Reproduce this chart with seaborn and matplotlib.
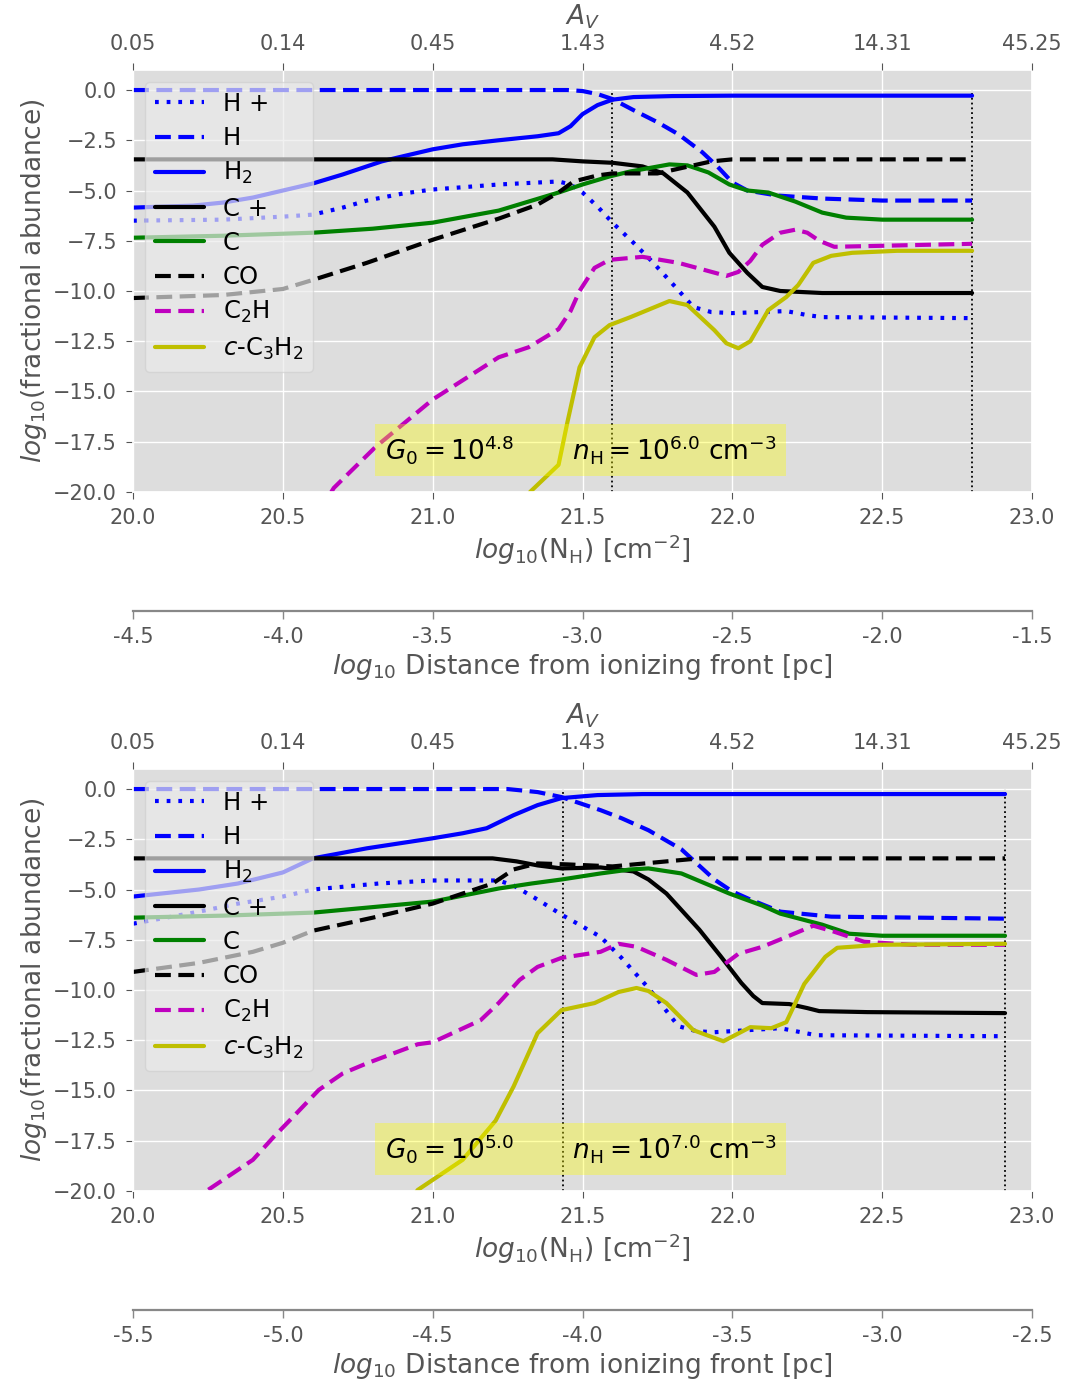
# -*- coding: utf-8 -*-
# PDR abundance profiles for two models, plotted against column density

# 1) IMPORT LIBRARIES
import numpy as np
import pandas as pd
import matplotlib
matplotlib.use("Agg")
import matplotlib.pyplot as plt
import seaborn as sns

# 2) DATA (read off the figure)
labels = ["H +", "H", "H$_2$", "C +", "C", "CO", "C$_2$H", "$c$-C$_3$H$_2$"]
colors = ["#0000FF", "#0000FF", "#0000FF", "#000000", "#008000", "#000000", "#BF00BF", "#BFBF00"]
styles = ["dot", "dash", "solid", "solid", "solid", "dash", "dash", "solid"]

# ---> model 1: G0 = 10^4.8, nH = 10^6.0
hp_x1 = [20.0, 20.3, 20.5, 20.6, 20.7, 20.78, 20.9, 21.0, 21.22, 21.42, 21.46, 21.5, 21.55, 21.6, 21.67, 21.73, 21.81, 21.87, 21.93, 22.0, 22.18, 22.25, 22.3, 22.8]
hp_y1 = [-6.5, -6.45, -6.3, -6.2, -5.85, -5.5, -5.15, -4.95, -4.7, -4.55, -4.7, -5.1, -5.8, -6.6, -7.6, -8.5, -9.8, -10.8, -11.05, -11.1, -11.0, -11.2, -11.3, -11.35]
h_x1 = [20.0, 21.45, 21.5, 21.55, 21.6, 21.67, 21.75, 21.82, 21.9, 21.95, 22.0, 22.05, 22.15, 22.3, 22.5, 22.8]
h_y1 = [0.0, 0.0, -0.05, -0.2, -0.45, -1.0, -1.6, -2.2, -3.1, -3.8, -4.6, -5.0, -5.25, -5.4, -5.5, -5.5]
h2_x1 = [20.0, 20.2, 20.3, 20.4, 20.5, 20.6, 20.7, 20.83, 20.9, 21.0, 21.1, 21.22, 21.35, 21.42, 21.46, 21.5, 21.55, 21.6, 21.67, 21.8, 22.0, 22.8]
h2_y1 = [-5.85, -5.75, -5.6, -5.35, -5.0, -4.65, -4.2, -3.55, -3.3, -2.95, -2.7, -2.5, -2.3, -2.15, -1.8, -1.2, -0.75, -0.48, -0.35, -0.3, -0.28, -0.28]
cp_x1 = [20.0, 21.4, 21.5, 21.6, 21.7, 21.77, 21.85, 21.94, 21.99, 22.05, 22.1, 22.16, 22.23, 22.3, 22.8]
cp_y1 = [-3.45, -3.45, -3.55, -3.62, -3.8, -4.15, -5.1, -6.8, -8.1, -9.1, -9.8, -10.0, -10.05, -10.1, -10.1]
c_x1 = [20.0, 20.3, 20.6, 20.8, 21.0, 21.22, 21.32, 21.42, 21.5, 21.59, 21.66, 21.79, 21.85, 21.92, 21.99, 22.05, 22.12, 22.21, 22.3, 22.38, 22.5, 22.8]
c_y1 = [-7.35, -7.25, -7.1, -6.9, -6.6, -6.0, -5.55, -5.1, -4.7, -4.3, -4.05, -3.7, -3.75, -4.1, -4.7, -5.0, -5.1, -5.55, -6.1, -6.35, -6.45, -6.45]
co_x1 = [20.0, 20.3, 20.5, 20.6, 20.78, 21.0, 21.22, 21.35, 21.42, 21.47, 21.55, 21.6, 21.75, 21.84, 21.93, 22.0, 22.8]
co_y1 = [-10.35, -10.2, -9.9, -9.45, -8.6, -7.45, -6.4, -5.7, -5.1, -4.55, -4.25, -4.15, -4.15, -3.85, -3.55, -3.45, -3.45]
c2h_x1 = [20.62, 20.67, 20.81, 21.0, 21.22, 21.32, 21.42, 21.46, 21.49, 21.54, 21.59, 21.7, 21.82, 21.98, 22.02, 22.06, 22.1, 22.16, 22.21, 22.25, 22.29, 22.34, 22.5, 22.8]
c2h_y1 = [-21.0, -19.8, -17.75, -15.4, -13.3, -12.8, -11.9, -11.0, -10.0, -8.85, -8.45, -8.3, -8.6, -9.25, -9.05, -8.5, -7.7, -7.1, -6.95, -7.1, -7.5, -7.8, -7.75, -7.65]
c3h2_x1 = [21.3, 21.325, 21.42, 21.45, 21.49, 21.54, 21.59, 21.66, 21.79, 21.85, 21.94, 21.98, 22.02, 22.06, 22.12, 22.18, 22.22, 22.27, 22.33, 22.4, 22.55, 22.8]
c3h2_y1 = [-21.0, -20.0, -18.65, -16.5, -13.8, -12.3, -11.7, -11.3, -10.5, -10.7, -11.95, -12.6, -12.85, -12.5, -10.95, -10.3, -9.7, -8.6, -8.25, -8.1, -8.0, -8.0]

# ---> model 2: G0 = 10^5.0, nH = 10^7.0
hp_x2 = [20.0, 20.22, 20.35, 20.5, 20.6, 20.82, 21.0, 21.22, 21.27, 21.35, 21.43, 21.56, 21.63, 21.72, 21.82, 21.88, 21.94, 22.16, 22.28, 22.91]
hp_y2 = [-6.7, -6.1, -5.7, -5.35, -5.0, -4.7, -4.55, -4.55, -4.8, -5.5, -6.25, -7.35, -8.4, -9.9, -11.8, -12.05, -12.1, -11.9, -12.25, -12.3]
h_x2 = [20.0, 21.25, 21.35, 21.43, 21.56, 21.63, 21.72, 21.83, 21.94, 22.0, 22.06, 22.16, 22.33, 22.91]
h_y2 = [0.0, 0.0, -0.15, -0.4, -1.05, -1.45, -2.05, -3.0, -4.5, -5.1, -5.5, -6.1, -6.35, -6.45]
h2_x2 = [20.0, 20.22, 20.35, 20.5, 20.6, 20.78, 21.0, 21.1, 21.18, 21.27, 21.35, 21.43, 21.55, 21.7, 22.91]
h2_y2 = [-5.35, -5.0, -4.7, -4.15, -3.45, -2.95, -2.45, -2.2, -1.95, -1.3, -0.8, -0.45, -0.3, -0.25, -0.25]
cp_x2 = [20.0, 21.2, 21.28, 21.35, 21.43, 21.56, 21.67, 21.72, 21.78, 21.89, 21.96, 22.03, 22.07, 22.1, 22.19, 22.25, 22.29, 22.45, 22.91]
cp_y2 = [-3.45, -3.45, -3.6, -3.8, -3.95, -3.9, -4.1, -4.5, -5.2, -7.0, -8.3, -9.65, -10.3, -10.65, -10.7, -10.9, -11.05, -11.1, -11.15]
c_x2 = [20.0, 20.3, 20.6, 21.0, 21.22, 21.33, 21.43, 21.56, 21.66, 21.72, 21.83, 21.99, 22.1, 22.16, 22.3, 22.39, 22.5, 22.91]
c_y2 = [-6.4, -6.3, -6.15, -5.6, -4.95, -4.7, -4.5, -4.2, -4.0, -3.95, -4.2, -5.2, -5.8, -6.2, -6.75, -7.2, -7.3, -7.3]
co_x2 = [20.0, 20.22, 20.4, 20.5, 20.6, 20.8, 21.0, 21.1, 21.2, 21.27, 21.35, 21.45, 21.6, 21.78, 21.89, 22.91]
co_y2 = [-9.1, -8.65, -8.1, -7.65, -7.05, -6.4, -5.7, -5.2, -4.7, -4.0, -3.7, -3.75, -3.85, -3.6, -3.45, -3.45]
c2h_x2 = [20.22, 20.25, 20.335, 20.4, 20.47, 20.535, 20.62, 20.7, 20.78, 20.95, 21.0, 21.16, 21.22, 21.29, 21.35, 21.43, 21.56, 21.62, 21.68, 21.78, 21.88, 21.94, 22.02, 22.1, 22.19, 22.27, 22.34, 22.44, 22.6, 22.91]
c2h_y2 = [-21.0, -19.95, -19.1, -18.45, -17.3, -16.3, -14.97, -14.15, -13.65, -12.7, -12.6, -11.5, -10.65, -9.5, -8.85, -8.4, -8.1, -7.7, -7.85, -8.5, -9.25, -9.1, -8.2, -7.85, -7.3, -6.8, -7.1, -7.6, -7.75, -7.75]
c3h2_x2 = [20.92, 20.95, 21.0, 21.1, 21.21, 21.27, 21.35, 21.43, 21.54, 21.62, 21.68, 21.72, 21.78, 21.87, 21.97, 22.06, 22.13, 22.18, 22.24, 22.31, 22.35, 22.49, 22.91]
c3h2_y2 = [-20.6, -19.95, -19.45, -18.45, -16.5, -14.8, -12.15, -11.0, -10.65, -10.1, -9.9, -10.05, -10.65, -12.0, -12.55, -11.85, -11.9, -11.6, -9.7, -8.35, -7.9, -7.75, -7.7]

vline_x1 = [21.6, 22.8]
vline_x2 = [21.435, 22.91]

nh_ticks = [20.0, 20.5, 21.0, 21.5, 22.0, 22.5, 23.0]
av_labels = ["0.05", "0.14", "0.45", "1.43", "4.52", "14.31", "45.25"]
dist_ticks1 = [-4.5, -4.0, -3.5, -3.0, -2.5, -2.0, -1.5]
dist_ticks2 = [-5.5, -5.0, -4.5, -4.0, -3.5, -3.0, -2.5]

models = [
    {"G0": "4.8", "nH": "6.0", "vlines": vline_x1, "dist": dist_ticks1,
     "series": [(hp_x1, hp_y1), (h_x1, h_y1), (h2_x1, h2_y1), (cp_x1, cp_y1),
                (c_x1, c_y1), (co_x1, co_y1), (c2h_x1, c2h_y1), (c3h2_x1, c3h2_y1)]},
    {"G0": "5.0", "nH": "7.0", "vlines": vline_x2, "dist": dist_ticks2,
     "series": [(hp_x2, hp_y2), (h_x2, h_y2), (h2_x2, h2_y2), (cp_x2, cp_y2),
                (c_x2, c_y2), (co_x2, co_y2), (c2h_x2, c2h_y2), (c3h2_x2, c3h2_y2)]},
]

dash_map = {"solid": "-", "dash": (0, (3.8, 1.8)), "dot": (0, (0.9, 1.9))}

# 3) STYLE
sns.set_theme(style="darkgrid", color_codes=False, rc={
    "axes.facecolor": "#DDDDDD",
    "grid.color": "white",
    "grid.linewidth": 1.0,
    "xtick.bottom": True, "ytick.left": True,
    "xtick.major.size": 5, "ytick.major.size": 5,
    "xtick.major.width": 0.8, "ytick.major.width": 0.8,
    "xtick.major.pad": 6.5, "ytick.major.pad": 6.5,
    "xtick.color": "#555555", "ytick.color": "#555555",
    "axes.labelcolor": "#555555",
    "xtick.labelsize": 15, "ytick.labelsize": 15,
    "axes.labelsize": 19,
})
plt.rcParams["font.family"] = ["DejaVu Sans"]

fig = plt.figure(figsize=(10.67, 13.85), dpi=100)

main_pos = [[0.1247, 0.6448, 0.8425, 0.3047], [0.1247, 0.1401, 0.8425, 0.3047]]
dist_pos = [[0.1247, 0.5590, 0.8425, 0.0006], [0.1247, 0.0543, 0.8425, 0.0006]]

# 4) PLOT EACH PANEL
for m, pos, dpos in zip(models, main_pos, dist_pos):
    ax = fig.add_axes(pos)
    for (xs, ys), lab, col, sty in zip(m["series"], labels, colors, styles):
        df = pd.DataFrame({"NH": xs, "abund": ys})
        sns.lineplot(data=df, x="NH", y="abund", ax=ax, color=col, lw=3.0,
                     linestyle=dash_map[sty], label=lab, sort=False,
                     estimator=None, errorbar=None)
    ax.vlines(m["vlines"], -20, 0, colors="k", linestyles=":", lw=1.3, zorder=1)

    ax.set_xlim(20, 23)
    ax.set_ylim(-20, 1.0)
    ax.set_xticks(nh_ticks)
    ax.set_yticks(np.arange(-20, 0.1, 2.5))
    ax.set_xlabel("$log_{10}$(N$_{\\rm H}$) [cm$^{-2}$]", labelpad=3)
    ax.set_ylabel("$log_{10}$(fractional abundance)", labelpad=3)

    leg = ax.legend(loc="upper left", fontsize=17.5, framealpha=0.68,
                    facecolor="#EBEBEB", edgecolor="#CFCFCF", labelspacing=0.42)
    for t in leg.get_texts():
        t.set_color("black")

    ax.text(20.84, -17.9,
            "$G_0 = 10^{%s}$       $n_{\\rm H} = 10^{%s}$ cm$^{-3}$" % (m["G0"], m["nH"]),
            fontsize=19, va="center", ha="left", color="black",
            bbox=dict(facecolor="yellow", alpha=0.35, edgecolor="none", pad=6.8))

    # top axis: visual extinction
    top = ax.twiny()
    top.set_xlim(20, 23)
    top.set_xticks(nh_ticks)
    top.set_xticklabels(av_labels)
    top.grid(False)
    top.set_xlabel("$A_V$", labelpad=7)
    for s in top.spines.values():
        s.set_visible(False)

    # distance axis below
    dax = fig.add_axes(dpos)
    dax.set_facecolor("none")
    dax.grid(False)
    dax.set_yticks([])
    dax.set_xlim(m["dist"][0], m["dist"][-1])
    dax.set_xticks(m["dist"])
    dax.set_xticklabels(["%.1f" % v for v in m["dist"]], fontsize=15)
    for k in ["top", "left", "right"]:
        dax.spines[k].set_visible(False)
    dax.spines["bottom"].set_color("#888888")
    dax.spines["bottom"].set_linewidth(1.6)
    dax.tick_params(axis="x", length=6, width=1.0, color="#888888", pad=6)
    dax.set_xlabel("$log_{10}$ Distance from ionizing front [pc]", fontsize=19, labelpad=3)

fig.savefig("out.png", dpi=100)
